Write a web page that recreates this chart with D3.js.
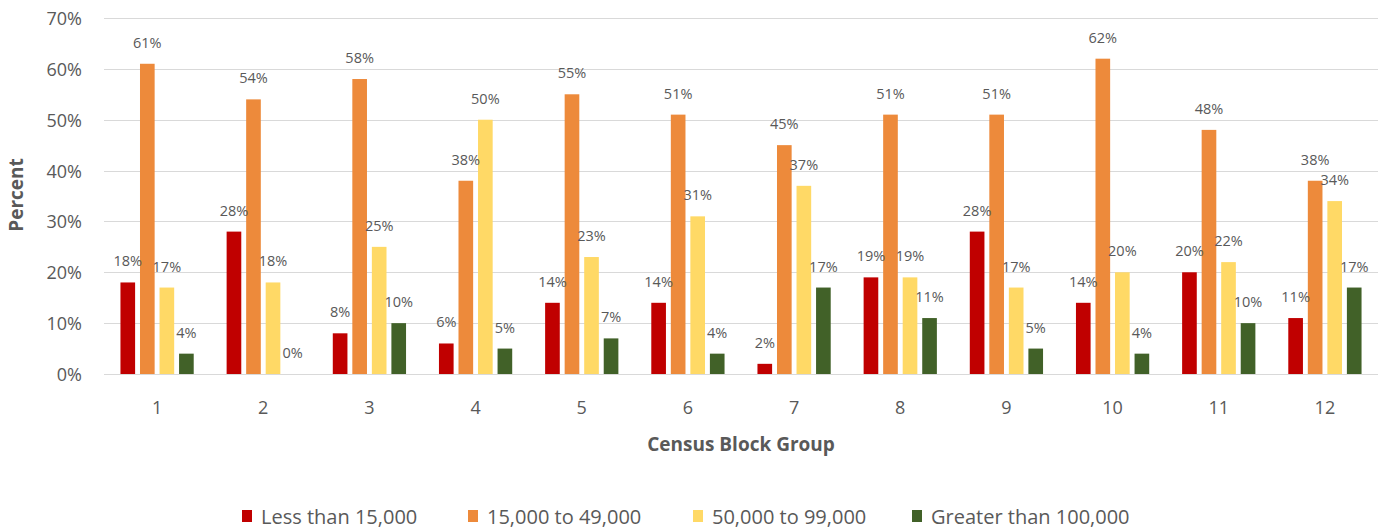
<!DOCTYPE html>
<html>
<head>
<meta charset="utf-8">
<script src="https://cdn.jsdelivr.net/npm/d3@7"></script>
<style>
  body { margin: 0; background: #fff; }
  text { font-family: "Open Sans", "Noto Sans", sans-serif; fill: #595959; }
</style>
</head>
<body>
<script>
const groups = ["1","2","3","4","5","6","7","8","9","10","11","12"]
const seriesNames = ["Less than 15,000","15,000 to 49,000","50,000 to 99,000","Greater than 100,000"]
const colors = ["#C00000","#ED8A3B","#FFD966","#416128"]
const lessThan15k   = [18, 28, 8, 6, 14, 14, 2, 19, 28, 14, 20, 11]
const from15to49k   = [61, 54, 58, 38, 55, 51, 45, 51, 51, 62, 48, 38]
const from50to99k   = [17, 18, 25, 50, 23, 31, 37, 19, 17, 20, 22, 34]
const greater100k   = [4, 0, 10, 5, 7, 4, 17, 11, 5, 4, 10, 17]
const yTicks = [0, 10, 20, 30, 40, 50, 60, 70]

const series = [lessThan15k, from15to49k, from50to99k, greater100k]

const width = 1379, height = 531
const plot = { left: 104, right: 1378, top: 18, bottom: 374 }

const svg = d3.select("body").append("svg")
  .attr("width", width).attr("height", height)

const x = d3.scaleBand().domain(groups)
  .range([plot.left, plot.right])
  .paddingInner(0.31).paddingOuter(0.155)
const xi = d3.scaleBand().domain(d3.range(series.length))
  .range([0, x.bandwidth()]).paddingInner(0.25)
const y = d3.scaleLinear().domain([0, 70]).range([plot.bottom, plot.top])

// gridlines
svg.append("g").selectAll("line").data(yTicks).join("line")
  .attr("x1", plot.left).attr("x2", plot.right)
  .attr("y1", d => Math.round(y(d)) + 0.5).attr("y2", d => Math.round(y(d)) + 0.5)
  .attr("stroke", "#D9D9D9").attr("stroke-width", 1)

// y tick labels
svg.append("g").selectAll("text").data(yTicks).join("text")
  .attr("x", 82).attr("y", d => y(d))
  .attr("text-anchor", "end").attr("dominant-baseline", "central")
  .attr("font-size", 18)
  .text(d => d + "%")

// x tick labels
svg.append("g").selectAll("text").data(groups).join("text")
  .attr("x", d => x(d) + x.bandwidth() / 2).attr("y", 414)
  .attr("text-anchor", "middle")
  .attr("font-size", 18)
  .text(d => d)

// bars + labels
const rows = []
groups.forEach((g, gi) => {
  series.forEach((s, si) => rows.push({ g, si, v: s[gi] }))
})

const bars = svg.append("g")
bars.selectAll("rect").data(rows).join("rect")
  .attr("x", d => x(d.g) + xi(d.si))
  .attr("width", xi.bandwidth())
  .attr("y", d => y(d.v))
  .attr("height", d => y(0) - y(d.v))
  .attr("fill", d => colors[d.si])

svg.append("g").selectAll("text").data(rows).join("text")
  .attr("x", d => x(d.g) + xi(d.si) + xi.bandwidth() / 2)
  .attr("y", d => y(d.v) - 16)
  .attr("text-anchor", "middle")
  .attr("font-size", 14.5)
  .text(d => d.v + "%")

// axis titles
svg.append("text")
  .attr("x", (plot.left + plot.right) / 2).attr("y", 451)
  .attr("text-anchor", "middle")
  .attr("font-size", 19).attr("font-weight", "bold")
  .text("Census Block Group")

svg.append("text")
  .attr("transform", "translate(23,195) rotate(-90)")
  .attr("text-anchor", "middle")
  .attr("font-size", 19).attr("font-weight", "bold")
  .text("Percent")

// legend
const legendX = [242, 468, 693, 912]
const legend = svg.append("g").selectAll("g").data(seriesNames).join("g")
  .attr("transform", (d, i) => `translate(${legendX[i]},516)`)
legend.append("rect")
  .attr("x", 0).attr("y", -6).attr("width", 10).attr("height", 12)
  .attr("fill", (d, i) => colors[i])
legend.append("text")
  .attr("x", 19).attr("y", 0)
  .attr("dominant-baseline", "central")
  .attr("font-size", 20)
  .text(d => d)
</script>
</body>
</html>
